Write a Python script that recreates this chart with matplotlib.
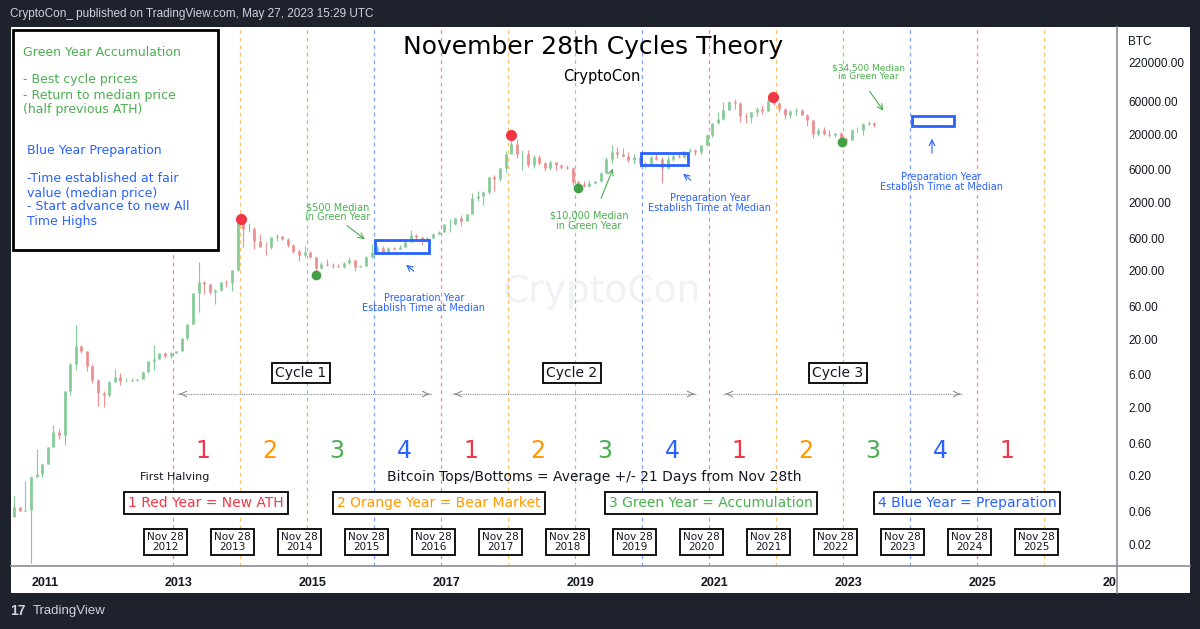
import matplotlib.pyplot as plt
from matplotlib.patches import Rectangle
from matplotlib.lines import Line2D
import numpy as np


# ==========================================
# DATA (monthly BTC candles, approx.)
# ==========================================

start_year = 2010
start_month = 7

open_first = 0.05

closes = [
    0.07, 0.06, 0.062, 0.19, 0.21, 0.30,
    0.52, 0.86, 0.78, 3.5, 8.7, 16.1, 13.4, 8.2, 5.1, 3.25, 3.0, 4.7,
    5.5, 4.9, 4.9, 5.0, 5.2, 6.7, 9.4, 10.2, 12.4, 11.2, 12.6, 13.5,
    20.4, 33.4, 93, 139, 129, 97, 106, 135, 133, 204, 1130, 805,
    830, 550, 450, 447, 627, 640, 585, 480, 387, 338, 378, 320,
    217, 254, 244, 236, 230, 263, 284, 230, 236, 314, 378, 430,
    369, 437, 416, 448, 531, 673, 624, 575, 609, 701, 742, 963,
    970, 1190, 1080, 1348, 2300, 2480, 2875, 4703, 4338, 6468, 10233, 14156,
    10221, 10397, 6973, 9240, 7494, 6404, 7780, 7037, 6625, 6317, 4017, 3742,
    3457, 3854, 4105, 5350, 8574, 10817, 10085, 9630, 8293, 9199, 7569, 7193,
    9350, 8599, 6438, 8658, 9461, 9137, 11323, 11680, 10784, 13804, 19713, 28990,
    33114, 45137, 58918, 57750, 37332, 35041, 41626, 47166, 43790, 61318, 57005, 46306,
    38483, 43193, 45538, 37714, 31792, 19785, 23336, 20050, 19423, 20495, 17168, 16548,
    23139, 23147, 28478, 29268, 26800,
]

highs = [
    0.10, 0.07, 0.17, 0.20, 0.50, 0.30,
    0.52, 1.1, 0.95, 3.5, 8.9, 31.9, 16.5, 13.5, 8.6, 5.2, 3.5, 4.8,
    7.2, 6.3, 5.4, 5.3, 5.2, 6.8, 9.7, 16.4, 12.5, 12.9, 12.8, 13.6,
    20.4, 33.4, 95, 266, 140, 129, 109, 135, 145, 205, 1163, 1150,
    1000, 860, 700, 530, 630, 680, 650, 600, 490, 410, 460, 390,
    320, 270, 300, 260, 248, 268, 315, 285, 245, 334, 500, 470,
    460, 445, 440, 470, 555, 780, 700, 630, 630, 720, 760, 975,
    1150, 1200, 1290, 1350, 2760, 2980, 2920, 4740, 4980, 6470, 11400, 19800,
    17200, 11800, 11700, 9750, 9990, 7760, 8500, 7760, 7400, 7060, 6550, 4240,
    4140, 4210, 4140, 5640, 9100, 13880, 13130, 12330, 10950, 10370, 9510, 7750,
    9580, 10500, 9190, 9460, 10070, 10370, 11440, 12470, 12050, 14000, 19900, 29300,
    41950, 58350, 61780, 64900, 59600, 41300, 42400, 50500, 52900, 67000, 69000, 59100,
    47990, 45820, 48200, 47440, 39900, 31980, 24670, 25200, 22800, 21080, 21480, 18390,
    23960, 25250, 29190, 31000, 29800,
]

lows = [
    0.05, 0.06, 0.06, 0.0105, 0.19, 0.19,
    0.30, 0.60, 0.70, 0.56, 3.0, 7.0, 12.5, 6.9, 4.5, 2.1, 2.0, 2.8,
    4.8, 4.2, 4.7, 4.8, 4.9, 5.2, 6.5, 7.1, 10.1, 10.5, 10.6, 12.5,
    13.3, 19.6, 33.2, 50, 92, 91, 65, 100, 115, 102, 199, 450,
    750, 420, 440, 340, 420, 550, 570, 450, 370, 280, 320, 310,
    152, 212, 236, 216, 226, 218, 253, 198, 225, 236, 310, 348,
    360, 365, 400, 413, 440, 530, 570, 470, 590, 610, 680, 740,
    750, 940, 890, 1060, 1360, 2100, 1830, 2670, 2970, 4110, 5520, 10700,
    9000, 6000, 6600, 6430, 7030, 5750, 6070, 5880, 6140, 6180, 3650, 3120,
    3400, 3380, 3740, 4050, 5350, 7450, 9070, 9330, 7700, 7300, 6520, 6430,
    6850, 8460, 3850, 6150, 8120, 8910, 8990, 10990, 9880, 10380, 13200, 18330,
    28130, 32400, 45000, 47000, 30000, 28800, 29300, 37300, 39600, 43300, 53500, 42000,
    32900, 34320, 37160, 37600, 26700, 17600, 18780, 19520, 18120, 18180, 15480, 16260,
    16490, 21350, 19550, 26940, 25800,
]

# cycle tops / bottoms (decimal year, price)
top_dates = [2013.93, 2017.96, 2021.86]
top_prices = [1150, 19500, 69000]
bottom_dates = [2015.04, 2018.96, 2022.89]
bottom_prices = [175, 3200, 15500]

# Nov 28th markers
nov28_years = list(range(2012, 2026))
year_digits = ["1", "2", "3", "4"] * 4

# median boxes (start year, end year, low price, high price)
median_boxes = [
    (2015.92, 2016.73, 360, 560),
    (2019.90, 2020.60, 7000, 10500),
    (2023.94, 2024.57, 26200, 36800),
]

price_ticks = [0.02, 0.06, 0.20, 0.60, 2, 6, 20, 60, 200, 600,
               2000, 6000, 20000, 60000, 220000]
year_ticks = [2011, 2013, 2015, 2017, 2019, 2021, 2023, 2025, 2027]
year_tick_labels = ["2011", "2013", "2015", "2017", "2019", "2021",
                    "2023", "2025", "20"]


# ==========================================
# STYLE
# ==========================================

RED = "#f23645"
ORANGE = "#ff9800"
GREEN = "#4caf50"
BLUE = "#2962ff"
DARK = "#1e222d"
TXT = "#131722"
year_colors = [RED, ORANGE, GREEN, BLUE]
UI_FONT = ["Liberation Sans", "DejaVu Sans"]

plt.rcParams["font.family"] = ["DejaVu Sans"]

W, H = 1200, 629
AX_L, AX_R, AX_T, AX_B = 11, 1117, 27, 566


def figf(px, py):
    return (px / W, 1 - py / H)


def axf(px, py):
    return ((px - AX_L) / (AX_R - AX_L), (AX_B - py) / (AX_B - AX_T))


fig = plt.figure(figsize=(12, 6.29), dpi=100, facecolor=DARK)

# white chart panel
fig.add_artist(Rectangle(figf(11, 593), 1179 / W, 566 / H,
                         transform=fig.transFigure,
                         facecolor="white", edgecolor="none", zorder=0))

ax = fig.add_axes([AX_L / W, 1 - AX_B / H,
                   (AX_R - AX_L) / W, (AX_B - AX_T) / H])
ax.set_facecolor("none")
ax.set_yscale("log")
ax.set_xlim(2010.493, 2026.98)
ax.set_ylim(0.00953, 740000)

for s in ax.spines.values():
    s.set_visible(False)

# axis separator lines
fig.add_artist(Line2D([AX_R / W, AX_R / W], [1 - 27 / H, 1 - 593 / H],
                      transform=fig.transFigure, color="#8a8d96", lw=1.2))
fig.add_artist(Line2D([11 / W, 1190 / W], [1 - AX_B / H, 1 - AX_B / H],
                      transform=fig.transFigure, color="#8a8d96", lw=1.2))


# ==========================================
# TICKS
# ==========================================

ax.yaxis.tick_right()
ax.set_yticks(price_ticks)
ax.set_yticklabels([f"{v:.2f}" for v in price_ticks])
ax.yaxis.set_minor_locator(plt.NullLocator())
ax.tick_params(axis="y", length=0, pad=8, labelsize=8.5, labelcolor=TXT)
for lbl in ax.get_yticklabels():
    lbl.set_family(UI_FONT)

ax.set_xticks(year_ticks)
ax.set_xticklabels(year_tick_labels)
ax.tick_params(axis="x", length=0, pad=8, labelsize=9, labelcolor=TXT)
for lbl in ax.get_xticklabels():
    lbl.set_fontweight("bold")
    lbl.set_family(UI_FONT)
ax.get_xticklabels()[-1].set_horizontalalignment("right")

fig.text(*figf(1128, 42), "BTC", fontsize=8.5, color=TXT,
         va="center", ha="left", family=UI_FONT)


# ==========================================
# HEADER / FOOTER
# ==========================================

fig.text(*figf(10, 14), "CryptoCon_ published on TradingView.com, "
         "May 27, 2023 15:29 UTC", fontsize=8.5, color="#d1d4dc",
         va="center", ha="left", family=UI_FONT)

fig.text(*figf(10, 611), "17", fontsize=10, fontweight="bold",
         color="#d1d4dc", va="center", ha="left", family=UI_FONT)
fig.text(*figf(33, 611), "TradingView", fontsize=9.5, color="#d1d4dc",
         va="center", ha="left", family=UI_FONT)


# ==========================================
# WATERMARK
# ==========================================

ax.text(*axf(602, 292), "CryptoCon", transform=ax.transAxes,
        fontsize=27, color="#eff1f4", ha="center", va="center", zorder=0)


# ==========================================
# NOV 28 LINES
# ==========================================

for i, yr in enumerate(nov28_years):
    x = yr + 332 / 365
    c = year_colors[i % 4]
    ax.axvline(x, color=c, lw=0.9, alpha=0.6,
               linestyle=(0, (3, 3)), zorder=1)

    if i < len(year_digits) - 3:
        ax.text(x + 0.45, axf(0, 451)[1], year_digits[i],
                transform=ax.get_xaxis_transform(), color=c,
                fontsize=17, ha="center", va="center")

    ax.text(x - 0.11, axf(0, 542)[1], f"Nov 28\n{yr}",
            transform=ax.get_xaxis_transform(), fontsize=7.5,
            color=TXT, ha="center", va="center", linespacing=1.0,
            bbox=dict(boxstyle="square,pad=0.3", fc="white",
                      ec="black", lw=1.3))


# ==========================================
# CANDLES
# ==========================================

xs = []
opens = []
for i in range(len(closes)):
    m = start_month - 1 + i
    xs.append(start_year + m // 12 + ((m % 12) + 0.5) / 12)
    opens.append(open_first if i == 0 else closes[i - 1])

xs = np.array(xs)
opens = np.array(opens)
closes_a = np.array(closes)
up = closes_a >= opens
cols = np.where(up, "#86cc98", "#ef9090")

ax.vlines(xs, lows, highs, colors=cols, lw=0.8, zorder=3)
ax.vlines(xs, opens, closes_a, colors=cols, lw=2.0, zorder=3)

ax.plot(top_dates, top_prices, "o", color=RED, ms=7, zorder=4)
ax.plot(bottom_dates, bottom_prices, "o", color="#43a047", ms=6, zorder=4)


# ==========================================
# MEDIAN BOXES
# ==========================================

for x0, x1, lo, hi in median_boxes:
    ax.add_patch(Rectangle((x0, lo), x1 - x0, hi - lo, fill=False,
                           ec=BLUE, lw=2, zorder=5))


def arrow(p0, p1, color):
    ax.annotate("", xy=axf(*p1), xytext=axf(*p0),
                xycoords="axes fraction", textcoords="axes fraction",
                arrowprops=dict(arrowstyle="->", color=color, lw=0.8))


def note(px, py, s, color, size=7):
    ax.text(*axf(px, py), s, transform=ax.transAxes, color=color,
            fontsize=size, ha="center", va="center", linespacing=1.0)


note(338, 212, "$500 Median\nin Green Year", GREEN)
arrow((345, 224), (367, 241), GREEN)
note(589, 221, "$10,000 Median\nin Green Year", GREEN)
arrow((600, 201), (614, 166), GREEN)
note(868, 72, "$34,500 Median\nin Green Year", GREEN, 6.5)
arrow((868, 89), (885, 113), GREEN)

note(424, 303, "Preparation Year\nEstablish Time at Median", BLUE)
arrow((416, 273), (404, 263), BLUE)
note(710, 203, "Preparation Year\nEstablish Time at Median", BLUE)
arrow((693, 182), (681, 172), BLUE)
note(941, 182, "Preparation Year\nEstablish Time at Median", BLUE)
arrow((932, 156), (932, 136), BLUE)


# ==========================================
# CYCLES
# ==========================================

cycles = [("Cycle 1", 301, 177, 432),
          ("Cycle 2", 572, 452, 697),
          ("Cycle 3", 838, 723, 963)]

for name, cx, x0, x1 in cycles:
    ax.text(*axf(cx, 373), name, transform=ax.transAxes, fontsize=10,
            color=TXT, ha="center", va="center",
            bbox=dict(boxstyle="square,pad=0.25", fc="white",
                      ec="black", lw=1.3), zorder=6)
    ax.plot([axf(x0, 394)[0], axf(x1, 394)[0]], [axf(0, 394)[1]] * 2,
            transform=ax.transAxes, color="#8a8d96", lw=0.8,
            linestyle=(0, (1, 1)), zorder=2)
    for a, b in ((x0 + 6, x0), (x1 - 6, x1)):
        ax.annotate("", xy=axf(b, 394), xytext=axf(a, 394),
                    xycoords="axes fraction", textcoords="axes fraction",
                    arrowprops=dict(arrowstyle="->", color="#8a8d96",
                                    lw=0.8))


# ==========================================
# BOTTOM TEXTS
# ==========================================

note(175, 477, "First Halving", TXT, 8)
note(594, 477, "Bitcoin Tops/Bottoms = Average +/- 21 Days from Nov 28th",
     TXT, 10)

legend_items = [("1 Red Year = New ATH", RED, 206),
                ("2 Orange Year = Bear Market", ORANGE, 439),
                ("3 Green Year = Accumulation", GREEN, 711),
                ("4 Blue Year = Preparation", BLUE, 967)]

for s, c, cx in legend_items:
    ax.text(*axf(cx, 503), s, transform=ax.transAxes, fontsize=10,
            color=c, ha="center", va="center",
            bbox=dict(boxstyle="square,pad=0.3", fc="white",
                      ec="black", lw=1.3), zorder=6)


# ==========================================
# TITLE + INFO BOX
# ==========================================

note(593, 47, "November 28th Cycles Theory", "black", 18)
note(602, 77, "CryptoCon", "black", 10.5)

fig.add_artist(Rectangle(figf(13, 250), 205 / W, 220 / H,
                         transform=fig.transFigure, fc="white",
                         ec="black", lw=2, zorder=5))

info_lines = [
    (23, 52, "Green Year Accumulation", GREEN),
    (23, 80, "- Best cycle prices", GREEN),
    (23, 95, "- Return to median price", GREEN),
    (23, 109, "(half previous ATH)", GREEN),
    (27, 151, "Blue Year Preparation", BLUE),
    (27, 179, "-Time established at fair", BLUE),
    (27, 193, "value (median price)", BLUE),
    (27, 207, "- Start advance to new All", BLUE),
    (27, 221, "Time Highs", BLUE),
]

for px, py, s, c in info_lines:
    fig.text(*figf(px, py), s, color=c, fontsize=9, ha="left",
             va="center", zorder=6)


fig.savefig("out.png", dpi=100, facecolor=DARK)
